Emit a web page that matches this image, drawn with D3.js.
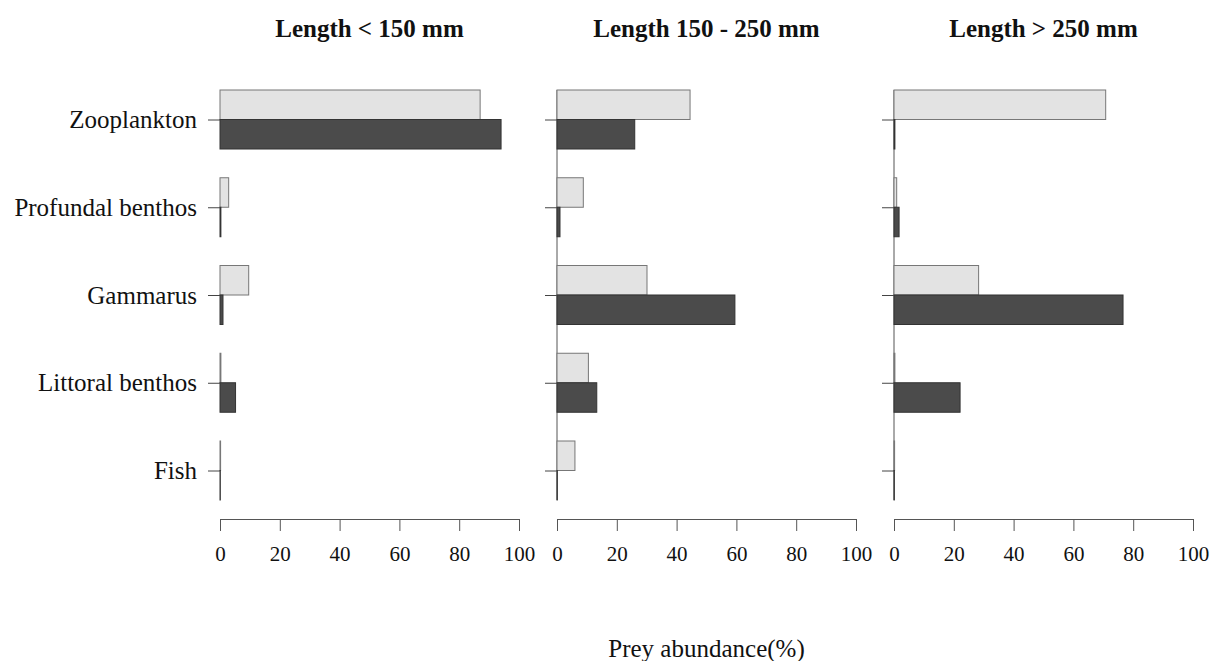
<!DOCTYPE html>
<html>
<head>
<meta charset="utf-8">
<script src="https://cdn.jsdelivr.net/npm/d3@7"></script>
<style>
  body { margin: 0; background: #fff; }
  svg text { font-family: "Liberation Serif", "Times New Roman", serif; fill: #111; }
</style>
</head>
<body>
<div class="vis-holder"></div>
<script>
// prey categories (top to bottom)
var categories = ["Zooplankton", "Profundal benthos", "Gammarus", "Littoral benthos", "Fish"];
// panel titles
var panelTitles = ["Length < 150 mm", "Length 150 - 250 mm", "Length > 250 mm"];
var tickValues = [0, 20, 40, 60, 80, 100];

// light bars (upper bar in each group), one array per panel
var lightSmall = [87, 2.9, 9.6, 0.3, 0.2];
var lightMid = [44.5, 8.8, 30.1, 10.5, 6.0];
var lightLarge = [70.8, 0.9, 28.3, 0.3, 0.2];
// dark bars (lower bar in each group)
var darkSmall = [94, 0.3, 1.0, 5.2, 0.1];
var darkMid = [26, 1.0, 59.5, 13.3, 0.1];
var darkLarge = [0.3, 1.7, 76.6, 22.1, 0.1];

var lightSeries = [lightSmall, lightMid, lightLarge];
var darkSeries = [darkSmall, darkMid, darkLarge];

var width = 1221;
var height = 661;

var svg = d3.select(".vis-holder")
  .append("svg")
  .attr("width", width)
  .attr("height", height);

var yScale = d3.scalePoint()
  .domain(categories)
  .range([119.5, 470.5]);
var barH = 29.5;

var panelLeft = 220, panelStep = 337, panelWidth = 299;

panelTitles.forEach(function(title, i) {
  var x0 = panelLeft + i * panelStep;
  var xScale = d3.scaleLinear().domain([0, 100]).range([x0, x0 + panelWidth]);
  var g = svg.append("g");

  // continuous vertical line in panels 2 and 3
  if (i > 0) {
    g.append("line")
      .attr("x1", xScale(0)).attr("x2", xScale(0))
      .attr("y1", yScale(categories[0]) - barH)
      .attr("y2", yScale(categories[categories.length - 1]) + barH)
      .attr("stroke", "#555")
      .attr("stroke-width", 1);
  }

  var light = lightSeries[i].map(function(v, j) { return {cat: categories[j], v: v}; });
  var dark = darkSeries[i].map(function(v, j) { return {cat: categories[j], v: v}; });

  g.selectAll(".light")
    .data(light)
    .enter().append("rect")
    .attr("x", xScale(0))
    .attr("y", function(d) { return yScale(d.cat) - barH; })
    .attr("width", function(d) { return xScale(d.v) - xScale(0); })
    .attr("height", barH)
    .attr("fill", "#e3e3e3")
    .attr("stroke", "#777")
    .attr("stroke-width", 1);

  g.selectAll(".dark")
    .data(dark)
    .enter().append("rect")
    .attr("x", xScale(0))
    .attr("y", function(d) { return yScale(d.cat); })
    .attr("width", function(d) { return xScale(d.v) - xScale(0); })
    .attr("height", barH)
    .attr("fill", "#4b4b4b")
    .attr("stroke", "#333")
    .attr("stroke-width", 1);

  // left ticks (labels only in first panel)
  var yAxis = d3.axisLeft(yScale).tickSize(12).tickPadding(11);
  if (i > 0) yAxis.tickFormat("");
  var ya = g.append("g")
    .attr("transform", "translate(" + xScale(0) + ",0)")
    .call(yAxis);
  ya.select(".domain").remove();
  ya.selectAll(".tick line").attr("stroke", "#444");
  ya.selectAll("text").style("font-size", "25px").attr("fill", "#111");

  // bottom axis
  var xAxis = d3.axisBottom(xScale)
    .tickValues(tickValues)
    .tickSize(12)
    .tickSizeOuter(0)
    .tickPadding(15);
  var xa = g.append("g")
    .attr("transform", "translate(0,519)")
    .call(xAxis);
  xa.select(".domain").attr("stroke", "#555");
  xa.selectAll(".tick line").attr("stroke", "#555");
  xa.selectAll("text").style("font-size", "21px").attr("fill", "#111");

  // panel title
  svg.append("text")
    .attr("x", x0 + panelWidth / 2)
    .attr("y", 37)
    .style("text-anchor", "middle")
    .style("font-size", "25px")
    .style("font-weight", "bold")
    .text(title);
});

svg.append("text")
  .attr("x", panelLeft + panelStep + panelWidth / 2)
  .attr("y", 657)
  .style("text-anchor", "middle")
  .style("font-size", "25px")
  .text("Prey abundance(%)");
</script>
</body>
</html>
